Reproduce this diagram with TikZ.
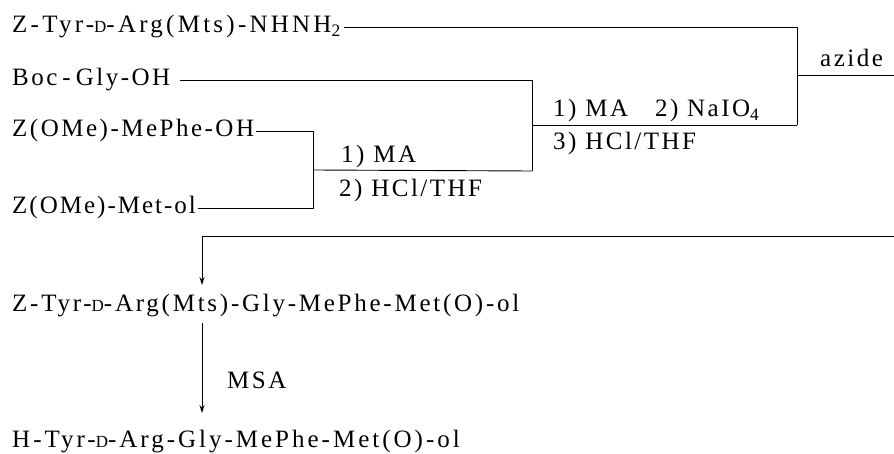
\documentclass[tikz,border=0pt]{standalone}
\usepackage{fontspec}
\setmainfont{Liberation Serif}[LetterSpace=10]
\usetikzlibrary{arrows.meta}
% small capital D for the D-configuration prefix
\newcommand{\dconf}{{\fontsize{17}{17}\selectfont D}}
% letter spacing of a single line of text
\newcommand{\spaced}[1]{\fontsize{25}{30}\selectfont\addfontfeatures{LetterSpace=#1}}
\tikzset{
  chem/.style={anchor=base west, inner sep=0pt, font=\fontsize{25}{30}\selectfont},
  lbl/.style={anchor=base west, inner sep=0pt, font=\fontsize{25}{30}\selectfont},
  link/.style={line width=0.9pt, black},
  arr/.style={link, -{Stealth[length=8pt,width=5pt]}}
}
\begin{document}
\begin{tikzpicture}[x=1pt,y=-1pt]
\useasboundingbox (0,0) rectangle (894,454);

% starting materials and products
\node[chem, font=\spaced{13}] (r1)    at (12,33)  {Z-Tyr-\dconf-Arg(Mts)-NHNH\textsubscript{2}};
\node[chem] (boc)   at (12,86)  {Boc\hspace{5pt}-\hspace{5pt}Gly-OH};
\node[chem] (mephe) at (12,137) {Z(OMe)-MePhe-OH};
\node[chem, font=\spaced{8}] (metol) at (12,214) {Z(OMe)-Met-ol};
\node[chem, font=\spaced{11}] (mid)   at (12,312) {Z-Tyr-\dconf-Arg(Mts)-Gly-MePhe-Met(O)-ol};
\node[chem, font=\spaced{12}] (fin)   at (12,447) {H-Tyr-\dconf-Arg-Gly-MePhe-Met(O)-ol};

% reagent labels
\node[lbl] (az) at (820,67)  {azide};
\node[lbl] (c1) at (553,117) {1)~MA\hspace{27pt}2)~NaIO\textsubscript{4}};
\node[lbl] (c2) at (553,150) {3)~HCl/THF};
\node[lbl] (a1) at (341,163) {1)~MA};
\node[lbl] (a2) at (339,197) {2)~HCl/THF};
\node[lbl] (msa) at (227,388) {MSA};

% junction points of the coupling brackets
\coordinate (p1) at (797,27);
\coordinate (p3) at (797,75);
\coordinate (p2) at (797,125);
\coordinate (out) at (894,75);
\coordinate (q1) at (532,80);
\coordinate (q3) at (532,125);
\coordinate (q2) at (532,171);
\coordinate (s1) at (313,131);
\coordinate (s3) at (313,170);
\coordinate (s2) at (313,208);
\coordinate (t0) at (894,236);
\coordinate (t1) at (202,236);
\coordinate (t2) at (202,285);
\coordinate (m1) at (202,323);
\coordinate (m2) at (202,413);

% first coupling: MePhe + Met-ol
\draw[link] ([xshift=2pt]mephe.east |- s1) -- (s1) -- (s2) -- ([xshift=2pt]metol.east |- s2);
\draw[link] (s3) -- (q2);
% second coupling: Gly
\draw[link] ([xshift=10pt]boc.east |- q1) -- (q1) -- (q2);
\draw[link] (q3) -- (p2);
% azide coupling
\draw[link] ([xshift=3pt]r1.east |- p1) -- (p1) -- (p2);
\draw[link] (p3) -- (out);
% continuation to the protected product
\draw[link] (t0) -- (t1);
\draw[arr] (t1) -- (t2);
% deprotection
\draw[arr] (m1) -- (m2);
\end{tikzpicture}
\end{document}
